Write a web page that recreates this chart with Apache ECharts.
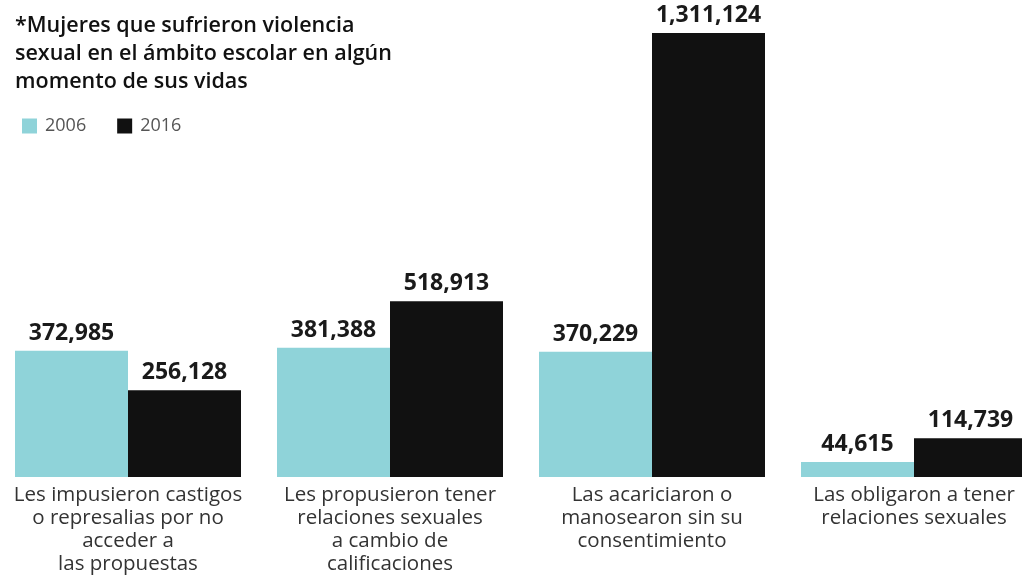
<!DOCTYPE html>
<html><head><meta charset="utf-8">
<script src="https://cdn.jsdelivr.net/npm/echarts@6/dist/echarts.min.js"></script>
<style>html,body{margin:0;padding:0;background:#fff;overflow:hidden;width:1022px;height:578px;position:relative}#c{position:absolute;left:-3px;top:0;width:1048px;height:578px}</style>
</head><body><div id="c"></div>
<script>
const categories = [
  "Les impusieron castigos\no represalias por no\nacceder a\nlas propuestas",
  "Les propusieron tener\nrelaciones sexuales\na cambio de\ncalificaciones",
  "Las acariciaron o\nmanosearon sin su\nconsentimiento",
  "Las obligaron a tener\nrelaciones sexuales"
];
const series2006 = [372985, 381388, 370229, 44615];
const series2016 = [256128, 518913, 1311124, 114739];
const seriesNames = ["2006", "2016"];
const titleText = "*Mujeres que sufrieron violencia\nsexual en el ámbito escolar en algún\nmomento de sus vidas";

const chart = echarts.init(document.getElementById('c'));
const fmt = v => v.value.toLocaleString('en-US');
const lab = {show:true, position:'top', distance:6, formatter:fmt, fontFamily:'Open Sans', fontWeight:'bold', fontSize:23, color:'#1a1a1a'};
chart.setOption({
  animation:false,
  title:{text:titleText, left:13, top:7, textStyle:{fontFamily:'Open Sans', fontWeight:600, fontSize:21.5, lineHeight:28, color:'#111'}},
  legend:{left:20, top:112, itemWidth:15, itemHeight:15, itemGap:31, icon:'rect',
    textStyle:{fontFamily:'Open Sans', fontSize:18, color:'#555', padding:[0,0,0,3]}, data:seriesNames},
  grid:{left:0, right:0, top:33, bottom:101, containLabel:false},
  xAxis:{type:'category', data:categories, axisLine:{show:false}, axisTick:{show:false},
    axisLabel:{margin:7, fontFamily:'Open Sans', fontSize:20.5, lineHeight:23, color:'#333', interval:0}},
  yAxis:{type:'value', min:0, max:1311124, show:false, splitLine:{show:false}},
  series:[
    {name:seriesNames[0], type:'bar', data:series2006, barWidth:113, barGap:'0%', itemStyle:{color:'#8fd3d9'}, label:lab},
    {name:seriesNames[1], type:'bar', data:series2016, barWidth:113, barGap:'0%', itemStyle:{color:'#111111'}, label:lab}
  ]
});
</script></body></html>
